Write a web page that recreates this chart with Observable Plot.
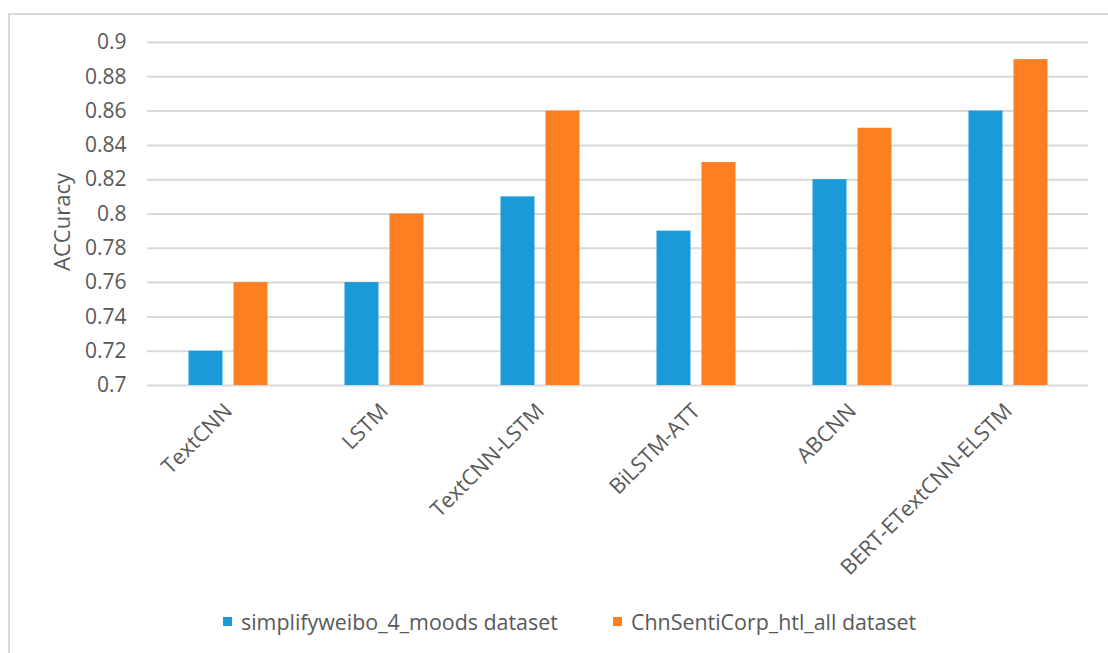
<!DOCTYPE html>
<html>
<head>
<meta charset="utf-8">
<script src="https://cdn.jsdelivr.net/npm/d3@7"></script>
<script src="https://cdn.jsdelivr.net/npm/@observablehq/plot@0.6"></script>
<style>
  html, body { margin: 0; padding: 0; background: #fff; width: 1108px; height: 653px; overflow: hidden; }
  body { position: relative; font-family: "Open Sans", sans-serif; color: #595959; }
  #frame { position: absolute; left: 8px; top: 13px; width: 1200px; height: 700px;
           border-left: 2px solid #d9d9d9; border-top: 2px solid #d9d9d9; box-sizing: border-box; }
  #chart { position: absolute; left: 0; top: 0; }
  #legend { position: absolute; left: 0; top: 607px; width: 1108px; height: 28px; font-size: 21.4px; }
  .item { position: absolute; display: flex; align-items: center; white-space: nowrap; }
  .sw { width: 9px; height: 9px; margin-right: 9px; }
</style>
</head>
<body>
<div id="frame"></div>
<div id="chart"></div>
<div id="legend"></div>
<script>
const categories = ["TextCNN", "LSTM", "TextCNN-LSTM", "BiLSTM-ATT", "ABCNN", "BERT-ETextCNN-ELSTM"];
const seriesNames = ["simplifyweibo_4_moods dataset", "ChnSentiCorp_htl_all dataset"];
const weiboValues = [0.72, 0.76, 0.81, 0.79, 0.82, 0.86];
const chnValues = [0.76, 0.80, 0.86, 0.83, 0.85, 0.89];
const yTicks = [0.7, 0.72, 0.74, 0.76, 0.78, 0.8, 0.82, 0.84, 0.86, 0.88, 0.9];
const yLabel = "ACCuracy";
const colors = ["#1a9bd7", "#fd7f21"];
const baseline = 0.7;

const weibo = categories.map((c, i) => ({category: c, value: weiboValues[i]}));
const chn = categories.map((c, i) => ({category: c, value: chnValues[i]}));

const chart = Plot.plot({
  width: 1108,
  height: 600,
  marginLeft: 147,
  marginRight: 20,
  marginTop: 42,
  marginBottom: 215,
  style: {background: "transparent", fontFamily: "'Open Sans', sans-serif", fontSize: "21px", color: "#595959"},
  x: {domain: categories, padding: 0},
  y: {domain: [0.7, 0.9]},
  marks: [
    Plot.ruleY(yTicks, {stroke: "#d9d9d9", strokeWidth: 2}),
    Plot.barY(weibo, {x: "category", y1: () => baseline, y2: "value", fill: colors[0], dx: -22.5, insetLeft: 61, insetRight: 61}),
    Plot.barY(chn, {x: "category", y1: () => baseline, y2: "value", fill: colors[1], dx: 22.5, insetLeft: 61, insetRight: 61}),
    Plot.axisY({ticks: yTicks, tickSize: 0, tickPadding: 21, tickFormat: d => String(+d.toFixed(2)),
                label: null, fontSize: 21, fill: "#595959"}),
    Plot.text([yLabel], {frameAnchor: "left", textAnchor: "middle", rotate: -90, dx: -85, dy: 8, fontSize: 22, fill: "#595959"}),
    Plot.axisX({tickSize: 0, tickPadding: 22, tickRotate: -45, label: null, fontSize: 21.5, fill: "#595959"})
  ]
});
document.getElementById("chart").appendChild(chart);

const legend = document.getElementById("legend");
const lefts = [223, 613];
seriesNames.forEach((name, i) => {
  const item = document.createElement("div");
  item.className = "item";
  item.style.left = lefts[i] + "px";
  const sw = document.createElement("span");
  sw.className = "sw";
  sw.style.background = colors[i];
  const t = document.createElement("span");
  t.textContent = name;
  item.appendChild(sw);
  item.appendChild(t);
  legend.appendChild(item);
});
</script>
</body>
</html>
